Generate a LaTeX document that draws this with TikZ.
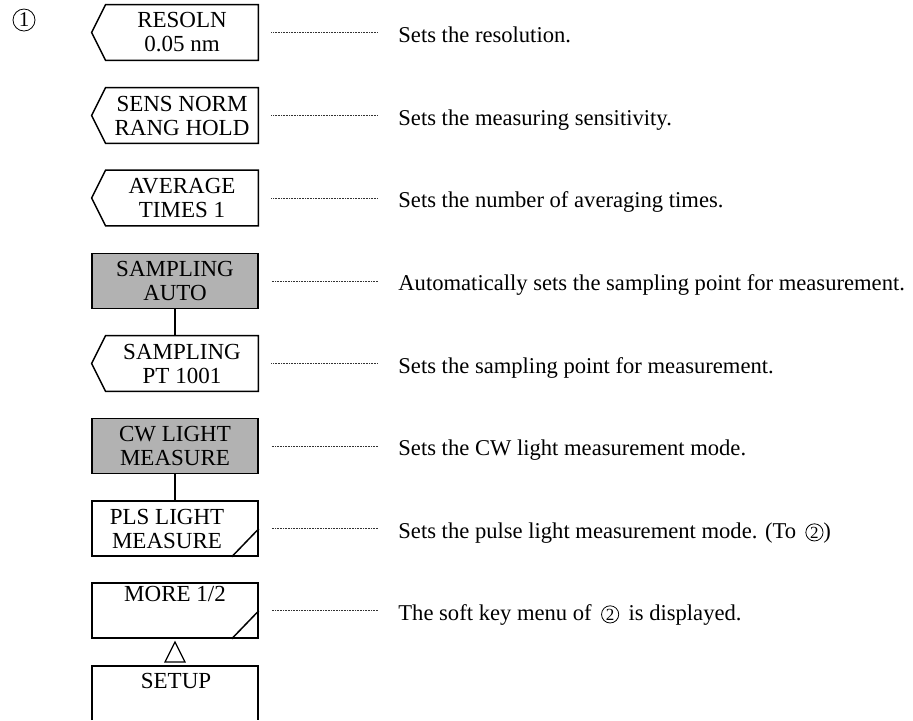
\documentclass[tikz,border=0pt]{standalone}
\usepackage{fontspec}
\setmainfont{Liberation Serif}
\newcommand\cnum[1]{\tikz[baseline=(cn.base)]\node[draw,circle,line width=0.4pt,minimum size=8.6pt,inner sep=0pt,font=\fontsize{8.5}{9}\selectfont](cn){#1};}
\begin{document}
\begin{tikzpicture}[x=0.5pt,y=-0.5pt,
  boxtext/.style={align=center,font=\fontsize{11.5}{12}\selectfont,inner sep=0pt},
  plainbox/.style={boxtext,draw,line width=0.75pt,minimum width=83pt,minimum height=27.5pt},
  arrowbody/.style={boxtext,minimum width=76pt,minimum height=27.5pt},
  shaded/.style={fill=black!30},
  desc/.style={anchor=base west,inner sep=0pt,font=\fontsize{11.3}{12}\selectfont},
  dotline/.style={line width=0.4pt,dash pattern=on 0.4pt off 0.4pt,black!80},
  outline/.style={line width=0.75pt}]
\useasboundingbox (0,0) rectangle (913,720);

\node[draw,circle,minimum size=11pt,inner sep=0pt,line width=0.4pt,font=\fontsize{10.5}{11}\selectfont] (c1) at (24,20) {1};

% boxes
\node[arrowbody] (b1) at (182,32.5) {RESOLN\\0.05 nm};
\node[arrowbody] (b2) at (182,115.5) {SENS NORM\\RANG HOLD};
\node[arrowbody] (b3) at (182,198) {AVERAGE\\TIMES 1};
\node[plainbox,shaded] (b4) at (175,281) {SAMPLING\\AUTO};
\node[arrowbody] (b5) at (182,363.5) {SAMPLING\\PT 1001};
\node[plainbox,shaded] (b6) at (175,446) {CW LIGHT\\MEASURE};
\node[plainbox] (b7) at (175,528.5) {PLS LIGHT\hspace*{8pt}\\MEASURE\hspace*{8pt}};
\node[plainbox] (b8) at (175,610.5) {};
\node[boxtext,anchor=base] (t8) at (175,601) {MORE 1/2};
\node[boxtext,anchor=base] (t9) at (176,688) {SETUP};

\foreach \n in {b1,b2,b3,b5}
  \draw[outline] (\n.north west) -- (\n.north east) -- (\n.south east) -- (\n.south west) -- ([xshift=-7pt]\n.west) -- cycle;

% slashes
\draw[outline] ([xshift=-13.5pt]b7.south east) -- ([yshift=14pt]b7.south east);
\draw[outline] ([xshift=-13.5pt]b8.south east) -- ([yshift=14pt]b8.south east);

% connectors between keys
\draw[outline] (b4.south) -- (b4.south |- b5.north);
\draw[outline] (b6.south) -- (b7.north);
\draw[line width=0.6pt] (175,642) -- (185,662) -- (165,662) -- cycle;
\draw[outline] (92,720) -- (92,666) -- (258,666) -- (258,720);

% descriptions
\node[desc] (d1) at (398,42) {Sets the resolution.};
\node[desc] (d2) at (398,125) {Sets the measuring sensitivity.};
\node[desc] (d3) at (398,207.5) {Sets the number of averaging times.};
\node[desc] (d4) at (398,290.5) {Automatically sets the sampling point for measurement.};
\node[desc] (d5) at (398,373) {Sets the sampling point for measurement.};
\node[desc] (d6) at (398,455.5) {Sets the CW light measurement mode.};
\node[desc] (d7) at (398,538) {Sets the pulse light measurement mode. (To \,\cnum{2})};
\node[desc] (d8) at (398,620) {The soft key menu of \,\cnum{2}\, is displayed.};

\foreach \i in {1,...,8}
  \draw[dotline] ([xshift=6.5pt]b\i.east) -- ([xshift=-10pt]b\i.east -| d\i.west);
\end{tikzpicture}
\end{document}
